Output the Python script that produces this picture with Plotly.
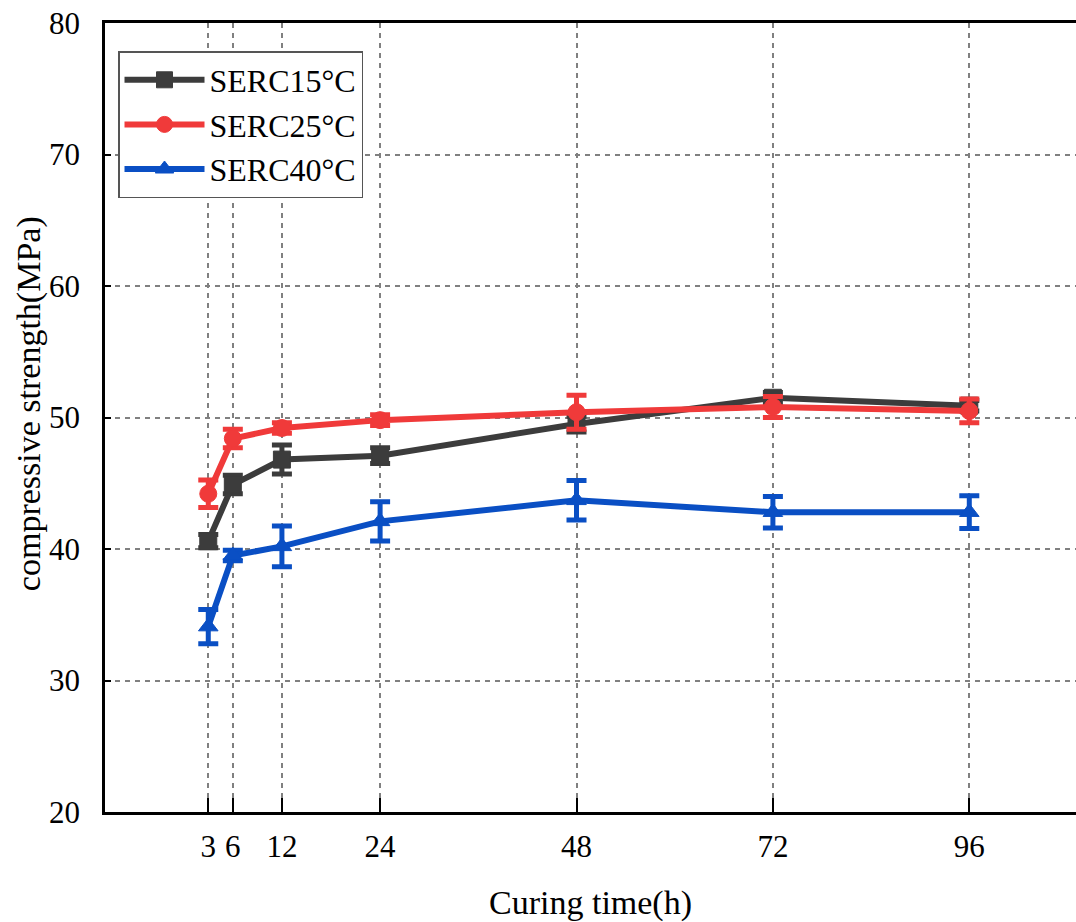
import plotly.graph_objects as go

hours = [3, 6, 12, 24, 48, 72, 96]
tick_labels = ["3", "6", "12", "24", "48", "72", "96"]

s15 = [40.6, 44.9, 46.8, 47.1, 49.5, 51.5, 50.9]
e15 = [0.5, 0.7, 1.1, 0.6, 0.6, 0.4, 0.4]
s25 = [44.2, 48.4, 49.2, 49.8, 50.4, 50.8, 50.5]
e25 = [1.05, 0.7, 0.4, 0.4, 1.3, 0.8, 0.9]
s40 = [34.1, 39.5, 40.2, 42.1, 43.7, 42.8, 42.8]
e40 = [1.3, 0.4, 1.55, 1.5, 1.5, 1.2, 1.25]

names = ["SERC15°C", "SERC25°C", "SERC40°C"]
colors = ["#3c3c3c", "#f03a3a", "#0a4fc4"]
symbols = ["square", "circle", "triangle-up"]
series = [s15, s25, s40]
errors = [e15, e25, e40]

FONT = "Times New Roman, Liberation Serif, serif"

fig = go.Figure()
for name, col, sym, ys, es in zip(names, colors, symbols, series, errors):
    fig.add_trace(go.Scatter(
        x=hours, y=ys, name=name, mode="lines+markers",
        line=dict(color=col, width=6),
        marker=dict(symbol=sym, size=17, color=col, line=dict(color=col, width=1)),
        error_y=dict(type="data", array=es, visible=True, color=col,
                     thickness=5, width=10),
    ))

fig.update_layout(
    width=1076, height=922,
    margin=dict(l=105, r=0, t=23, b=110),
    plot_bgcolor="white", paper_bgcolor="white",
    font=dict(family=FONT, size=30, color="black"),
    showlegend=True,
    legend=dict(
        x=0.0134, y=0.9645, xanchor="left", yanchor="top",
        bgcolor="white", bordercolor="#555555", borderwidth=1.5,
        font=dict(family=FONT, size=32, color="black"),
        tracegroupgap=0, itemwidth=80,
    ),
    xaxis=dict(
        range=[-9.62, 109.04], automargin=False,
        tickmode="array", tickvals=hours, ticktext=tick_labels,
        ticks="inside", ticklen=14, tickwidth=2, tickcolor="black",
        showline=True, linecolor="black", linewidth=2.5, mirror=True,
        showgrid=True, gridcolor="#808080", gridwidth=1.5, griddash="5px,5px",
        zeroline=False,
        ticklabelstandoff=5,
        tickfont=dict(family=FONT, size=31),
        title=dict(text="Curing time(h)", font=dict(family=FONT, size=34), standoff=36),
    ),
    yaxis=dict(
        range=[20, 80], automargin=False,
        tickmode="array", tickvals=[20, 30, 40, 50, 60, 70, 80],
        ticks="inside", ticklen=6, tickwidth=2, tickcolor="black",
        showline=True, linecolor="black", linewidth=2.5, mirror=False,
        showgrid=True, gridcolor="#808080", gridwidth=1.5, griddash="5px,5px",
        zeroline=False,
        ticklabelstandoff=16,
        tickfont=dict(family=FONT, size=31),
    ),
    annotations=[dict(
        text="compressive strength(MPa)", textangle=-90,
        xref="paper", yref="paper", x=-0.0782, y=0.517,
        xanchor="center", yanchor="middle", showarrow=False,
        font=dict(family=FONT, size=34, color="black"),
    )],
)

fig.write_html("out.html")
